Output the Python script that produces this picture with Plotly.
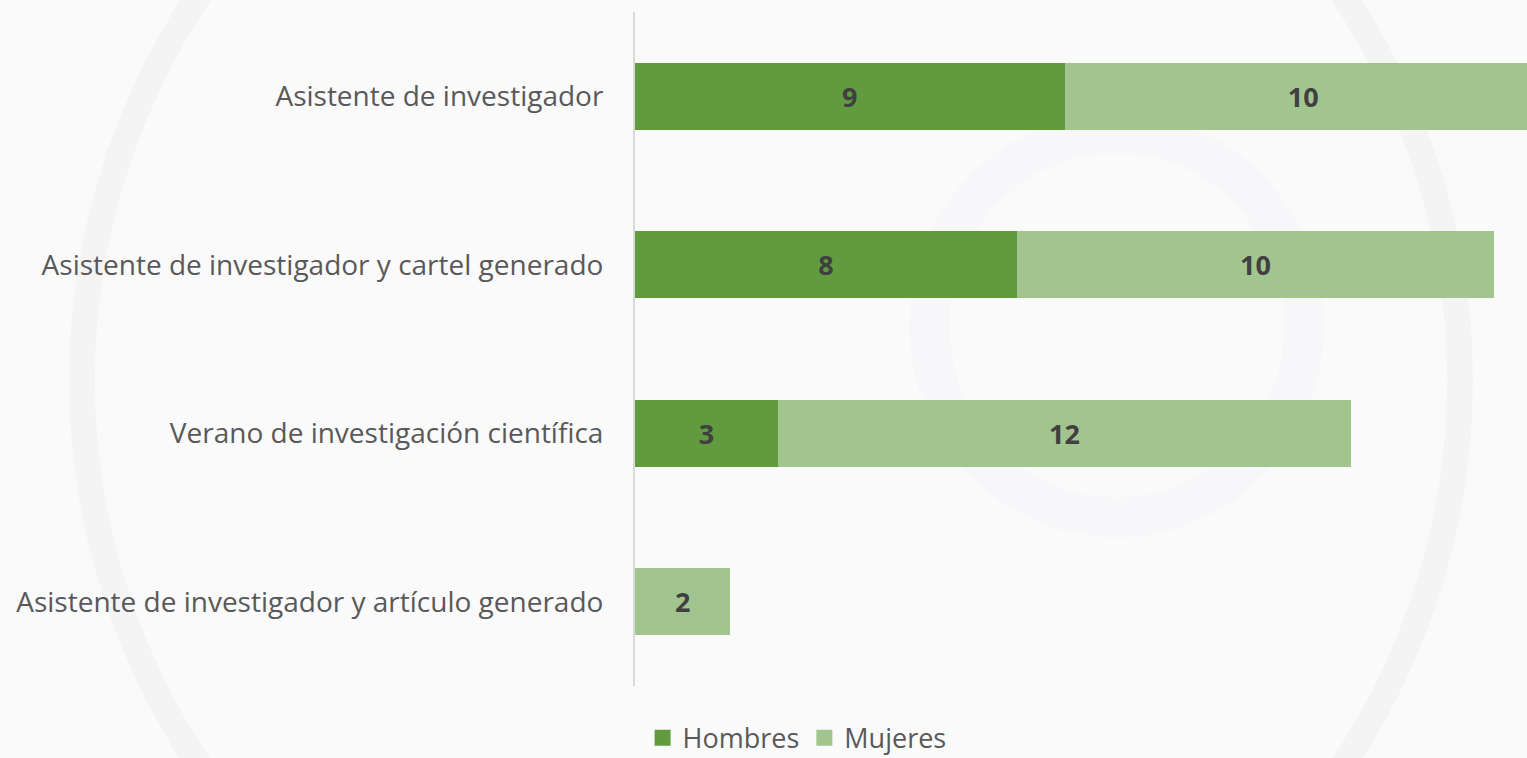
import plotly.graph_objects as go

categories = [
    "Asistente de investigador y artículo generado",
    "Verano de investigación científica",
    "Asistente de investigador y cartel generado",
    "Asistente de investigador",
]
hombres = [0, 3, 8, 9]
mujeres = [2, 12, 10, 10]
series_names = ["Hombres", "Mujeres"]

c_h = "#629A3F"
c_m = "#A2C590"
FONT = "Open Sans"

def labels(vals):
    return [str(v) if v else "" for v in vals]

fig = go.Figure()
for name, vals, col in [(series_names[0], hombres, c_h), (series_names[1], mujeres, c_m)]:
    fig.add_trace(go.Bar(
        y=categories, x=vals, name=name, orientation="h",
        marker=dict(color=col, line=dict(width=0)),
        text=labels(vals), textposition="inside", insidetextanchor="middle",
        textfont=dict(family=FONT, size=27, color="#404040", weight="bold"),
        hoverinfo="x+name", showlegend=False, legendgroup=name,
    ))
# legend entries with larger square keys
for name, col in [(series_names[0], c_h), (series_names[1], c_m)]:
    fig.add_trace(go.Scatter(
        x=[None], y=[None], mode="markers", name=name, legendgroup=name,
        marker=dict(symbol="square", size=17, color=col), showlegend=True,
    ))

fig.update_layout(
    width=1527, height=758,
    barmode="stack", bargap=0.6,
    paper_bgcolor="#FAFAFA", plot_bgcolor="rgba(0,0,0,0)",
    margin=dict(l=635, r=0, t=12, b=72),
    font=dict(family=FONT, color="#595959"),
    uniformtext=dict(mode="show", minsize=10),
    legend=dict(
        orientation="h", xref="container", yref="container",
        traceorder="normal",
        x=0.522, xanchor="center", y=0.026, yanchor="middle",
        font=dict(size=27, color="#595959"), bgcolor="rgba(0,0,0,0)",
        itemwidth=30, tracegroupgap=0,
    ),
    xaxis=dict(range=[0, 18.69], showgrid=False, zeroline=False,
               showticklabels=False, showline=False, fixedrange=True),
    yaxis=dict(showgrid=False, zeroline=False, showline=True,
               linecolor="#D9D9D9", linewidth=2, ticks="",
               ticklabelstandoff=24,
               tickfont=dict(size=28, color="#595959"), fixedrange=True),
    shapes=[
        dict(type="circle", xref="paper", yref="paper", layer="below",
             x0=-0.62, x1=0.925, y0=-0.57, y1=1.478,
             line=dict(color="rgba(0,0,0,0.025)", width=26)),
        dict(type="circle", xref="paper", yref="paper", layer="below",
             x0=0.33, x1=0.75, y0=0.25, y1=0.82,
             line=dict(color="rgba(120,90,220,0.02)", width=40)),
    ],
)

fig.write_html(
    "out.html",
    config={"displayModeBar": False},
    post_script="document.body.style.margin='0';document.body.style.overflow='hidden';",
)
